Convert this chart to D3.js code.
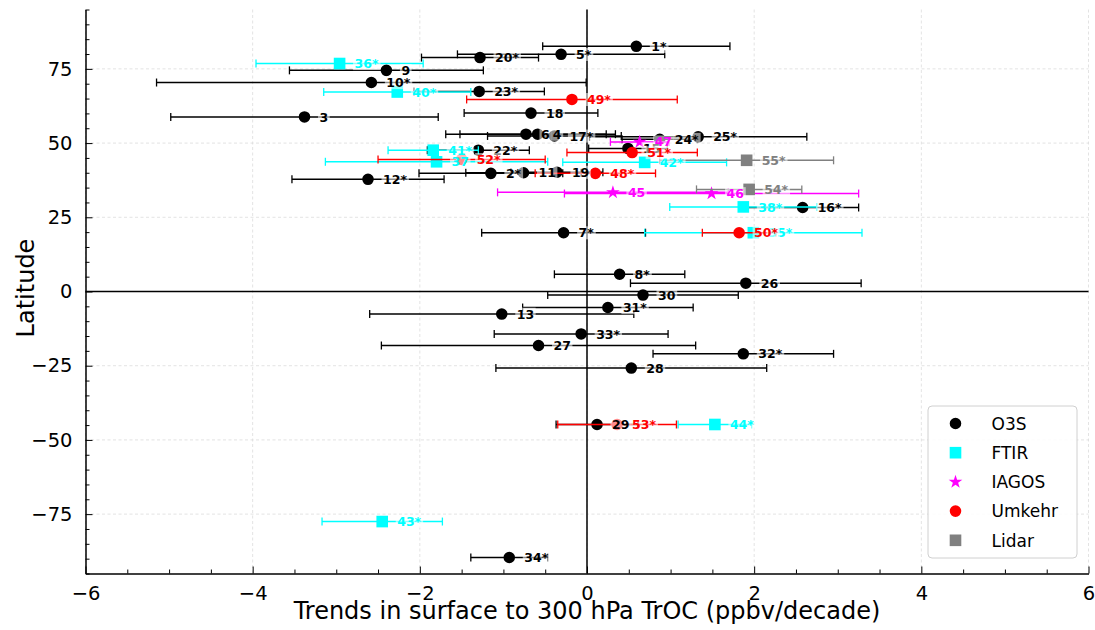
<!DOCTYPE html>
<html><head><meta charset="utf-8">
<script src="https://cdn.jsdelivr.net/npm/d3@7"></script>
<style>body{margin:0;background:#fff} svg{display:block;font-family:"DejaVu Sans",sans-serif}</style>
</head><body><svg id="c" width="1095" height="630"></svg>
<script>
// ---- data ----
const o3sLabels = ["1*","5*","20*","9","10*","23*","18","3","6","4","17*","24*","25*","15","22*","2*","11","19","12*","16*","7*","8*","26","30","31*","13","33*","27","32*","28","29","34*"];
const o3sTrend  = [0.59,-0.31,-1.28,-2.40,-2.58,-1.29,-0.67,-3.38,-0.73,-0.59,-0.39,0.87,1.33,0.49,-1.30,-1.15,-0.76,-0.36,-2.62,2.58,-0.28,0.39,1.90,0.67,0.25,-1.02,-0.07,-0.58,1.87,0.53,0.12,-0.93];
const o3sLat    = [82.6,79.9,78.8,74.5,70.4,67.4,60.1,58.8,53.0,53.0,52.4,51.3,52.1,48.2,47.6,39.8,40.0,40.2,37.8,28.3,19.8,5.8,2.8,-1.2,-5.4,-7.6,-14.3,-18.2,-21.0,-25.8,-44.8,-89.6];
const o3sErr    = [1.12,1.24,0.70,1.16,2.57,0.78,0.80,1.60,0.96,0.93,0.80,0.45,1.30,0.47,0.61,0.86,0.69,0.55,0.91,0.67,0.98,0.78,1.38,1.14,1.02,1.58,1.04,1.88,1.08,1.62,0.49,0.46];

const ftirLabels = ["35*","36*","37","38*","40*","41*","42*","43*","44*"];
const ftirTrend  = [1.99,-2.96,-1.80,1.87,-2.27,-1.84,0.69,-2.45,1.53];
const ftirLat    = [19.8,76.8,43.7,28.5,67.2,47.6,43.5,-77.5,-44.8];
const ftirErr    = [1.30,1.00,1.33,0.88,0.88,0.54,0.98,0.72,0.44];

const iagosLabels = ["45","46","47"];
const iagosTrend  = [0.31,1.49,0.63];
const iagosLat    = [33.4,33.0,50.4];
const iagosErr    = [1.38,1.76,0.35];

const umkLabels = ["48*","49*","50*","51*","52*","53*"];
const umkTrend  = [0.10,-0.18,1.82,0.54,-1.50,0.36];
const umkLat    = [39.8,64.7,19.8,46.8,44.5,-44.8];
const umkErr    = [0.72,1.26,0.44,0.78,1.00,0.71];

const lidarLabels = ["54*","55*"];
const lidarTrend  = [1.94,1.91];
const lidarLat    = [34.4,44.2];
const lidarErr    = [0.63,1.04];

const xTicks = [-6,-4,-2,0,2,4,6];
const yTicks = [-75,-50,-25,0,25,50,75];
const xTitle = "Trends in surface to 300 hPa TrOC (ppbv/decade)";
const yTitle = "Latitude";

// ---- build ----
const series = [
  {name:"O3S", color:"#000000", sym:d3.symbolCircle, size:105, labels:o3sLabels, x:o3sTrend, y:o3sLat, e:o3sErr},
  {name:"FTIR", color:"#00ffff", sym:d3.symbolSquare, size:135, labels:ftirLabels, x:ftirTrend, y:ftirLat, e:ftirErr},
  {name:"IAGOS", color:"#ff00ff", sym:d3.symbolStar, size:58, labels:iagosLabels, x:iagosTrend, y:iagosLat, e:iagosErr},
  {name:"Umkehr", color:"#ff0000", sym:d3.symbolCircle, size:105, labels:umkLabels, x:umkTrend, y:umkLat, e:umkErr},
  {name:"Lidar", color:"#808080", sym:d3.symbolSquare, size:135, labels:lidarLabels, x:lidarTrend, y:lidarLat, e:lidarErr}
];

const svg = d3.select("#c");
const L = 85.5, R = 1088.5, T = 9.5, B = 573.5;
const xs = d3.scaleLinear().domain([-6,6]).range([L,R]);
const ys = d3.scaleLinear().domain([-95,95]).range([B,T]);

// grid
const grid = svg.append("g").attr("stroke","#dcdcdc").attr("stroke-width",0.8).attr("stroke-dasharray","3,2.5");
xTicks.forEach(t=>grid.append("line").attr("x1",xs(t)).attr("x2",xs(t)).attr("y1",T).attr("y2",B));
yTicks.forEach(t=>grid.append("line").attr("x1",L).attr("x2",R).attr("y1",ys(t)).attr("y2",ys(t)));

// zero lines
svg.append("line").attr("x1",xs(0)).attr("x2",xs(0)).attr("y1",T).attr("y2",B).attr("stroke","#000").attr("stroke-width",1.5);
svg.append("line").attr("x1",L).attr("x2",R).attr("y1",ys(0)).attr("y2",ys(0)).attr("stroke","#000").attr("stroke-width",1.5);

// axes
const xAxis = d3.axisBottom(xs).tickValues(xTicks).tickSizeInner(-7).tickSizeOuter(0).tickPadding(13)
  .tickFormat(d=>d<0?"\u2212"+Math.abs(d):String(d));
const gx = svg.append("g").attr("transform",`translate(0,${B})`).call(xAxis);
const yAxis = d3.axisLeft(ys).tickValues(yTicks).tickSizeInner(-7).tickSizeOuter(0).tickPadding(13)
  .tickFormat(d=>d<0?"\u2212"+Math.abs(d):String(d));
const gy = svg.append("g").attr("transform",`translate(${L},0)`).call(yAxis);
[gx,gy].forEach(g=>{
  g.select(".domain").attr("stroke","#000").attr("stroke-width",1.5);
  g.selectAll(".tick line").attr("stroke","#000").attr("stroke-width",1);
  g.selectAll(".tick text").attr("font-size","19.5px").attr("fill","#000").attr("font-family","DejaVu Sans");
});
// minor ticks
const xMinor = d3.range(-6,6.01,0.5).filter(v=>!xTicks.includes(v));
const mx = d3.axisBottom(xs).tickValues(xMinor).tickSizeInner(-4).tickSizeOuter(0).tickFormat("");
svg.append("g").attr("transform",`translate(0,${B})`).call(mx).call(g=>{g.select(".domain").remove();g.selectAll("line").attr("stroke","#000");});
const yMinor = d3.range(-95,95.01,5).filter(v=>!yTicks.includes(v));
const my = d3.axisLeft(ys).tickValues(yMinor).tickSizeInner(-4).tickSizeOuter(0).tickFormat("");
svg.append("g").attr("transform",`translate(${L},0)`).call(my).call(g=>{g.select(".domain").remove();g.selectAll("line").attr("stroke","#000");});

// titles
svg.append("text").attr("x",xs(0)).attr("y",618.5).attr("text-anchor","middle").attr("font-size","24px").text(xTitle);
svg.append("text").attr("transform",`translate(34,288) rotate(-90)`).attr("text-anchor","middle").attr("font-size","24px").text(yTitle);

// error bars + markers
const marks = svg.append("g");
series.forEach(s=>{
  const g = marks.append("g").attr("stroke",s.color).attr("fill",s.color);
  s.x.forEach((v,i)=>{
    const y = ys(s.y[i]), x0 = xs(v - s.e[i]), x1 = xs(v + s.e[i]);
    g.append("line").attr("x1",x0).attr("x2",x1).attr("y1",y).attr("y2",y).attr("stroke-width",1.5);
    g.append("line").attr("x1",x0).attr("x2",x0).attr("y1",y-4).attr("y2",y+4).attr("stroke-width",1.3);
    g.append("line").attr("x1",x1).attr("x2",x1).attr("y1",y-4).attr("y2",y+4).attr("stroke-width",1.3);
    g.append("path").attr("d",d3.symbol().type(s.sym).size(s.size)()).attr("stroke","none")
      .attr("transform",`translate(${xs(v)},${y})`);
  });
});

// labels
const labs = svg.append("g");
series.forEach(s=>{
  s.x.forEach((v,i)=>{
    const g = labs.append("g");
    const t = g.append("text").attr("x",xs(v)+15).attr("y",ys(s.y[i])+4.6)
      .attr("font-size","12.5px").attr("font-weight","bold").attr("fill",s.color).text(s.labels[i]);
    const bb = t.node().getBBox();
    g.insert("rect","text").attr("x",bb.x-1.5).attr("y",bb.y+1).attr("width",bb.width+3).attr("height",bb.height-2)
      .attr("fill","#fff").attr("opacity",0.55);
  });
});

// legend
const lg = svg.append("g");
lg.append("rect").attr("x",928).attr("y",406).attr("width",149).attr("height",152).attr("rx",4)
  .attr("fill","#fff").attr("fill-opacity",0.85).attr("stroke","#d0d0d0").attr("stroke-width",1);
series.forEach((s,i)=>{
  const y = 423.5 + i*29.2;
  lg.append("path").attr("d",d3.symbol().type(s.sym).size(s.size)()).attr("fill",s.color)
    .attr("transform",`translate(955.5,${y})`);
  lg.append("text").attr("x",991.5).attr("y",y+6.3).attr("font-size","17px").text(s.name);
});
</script></body></html>
